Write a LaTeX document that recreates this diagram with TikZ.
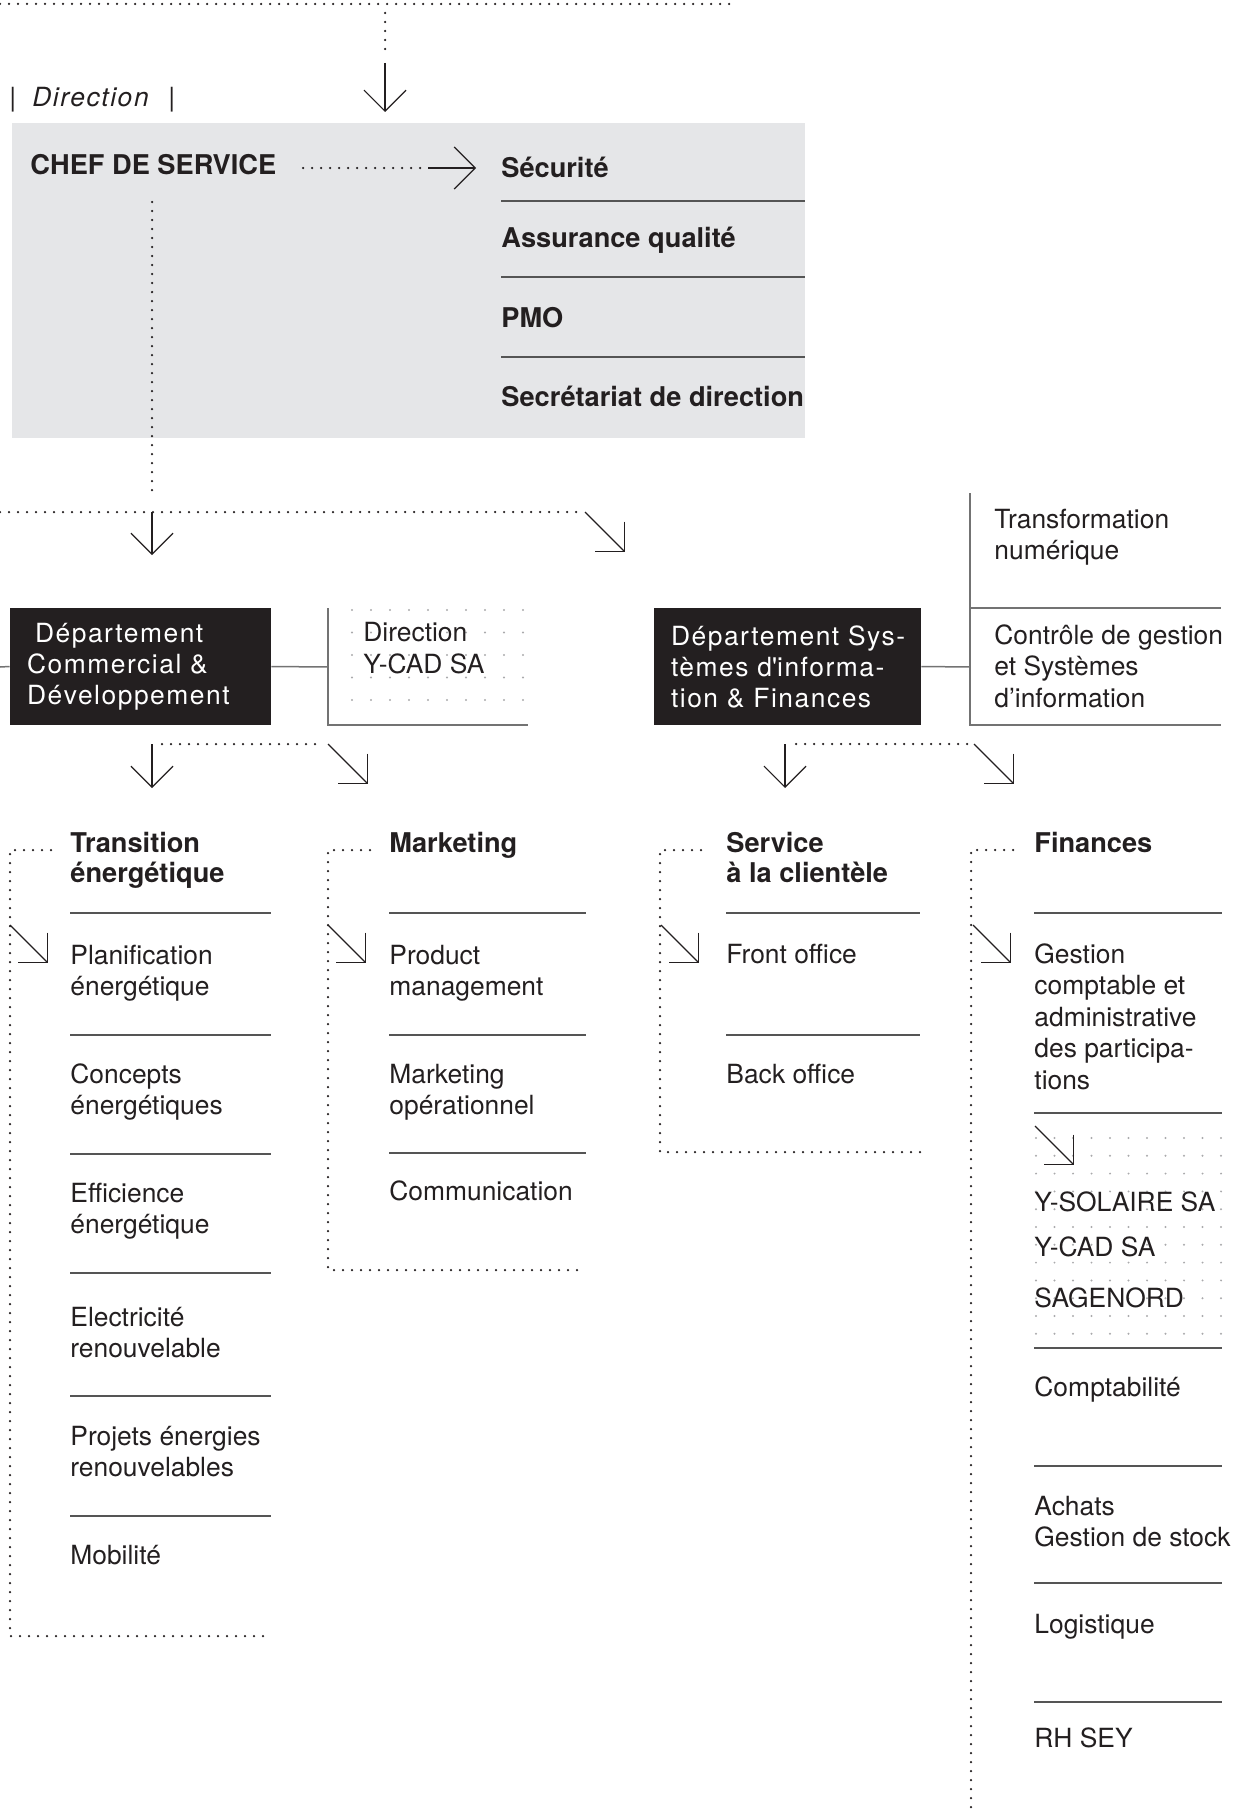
\documentclass[tikz,border=0pt]{standalone}
\usepackage{fontspec}
\setmainfont{TeX Gyre Heros}
\newfontfamily\deptfont{TeX Gyre Heros}[LetterSpace=5.8]
\usetikzlibrary{arrows.meta,positioning}
\definecolor{ink}{RGB}{35,31,32}
\definecolor{boxgray}{RGB}{229,230,232}
\definecolor{rulegray}{RGB}{85,85,85}
\definecolor{linkgray}{RGB}{115,115,115}
\definecolor{griddot}{RGB}{170,170,172}
\newcommand{\dotgap}{4.5pt}
\newcommand{\gridr}{.55pt}

\begin{document}
\begin{tikzpicture}[x=.5pt,y=-.5pt,
    every node/.style={inner sep=0pt, anchor=base west, align=left, text=ink,
      font=\fontsize{13.2}{15.75}\selectfont},
    title/.style={font=\fontsize{13.6}{15}\selectfont\bfseries},
    deptbox/.style={anchor=center, fill=ink, text=white, minimum height=58.5pt, inner xsep=8.5pt,
      font=\deptfont\fontsize{13.2}{15.5}\selectfont},
    hrule/.style={draw=rulegray, line width=.75pt},
    joinline/.style={draw=linkgray, line width=.75pt},
    dotline/.style={draw=ink, line width=1.25pt, line cap=round, dash pattern=on 0pt off \dotgap},
    arrowline/.style={draw=ink, line width=.6pt, -{Straight Barb[length=10.5pt,width=21pt]}}]

        \useasboundingbox (0,0) rectangle (1239,1809);

          % direction
        \node (dirbox) at (12,123) [anchor=north west, fill=boxgray, minimum width=396.5pt, minimum height=157.5pt] {};
        \node (dirlbl) at (9,107) {|\hspace{8pt}{\addfontfeature{LetterSpace=6}\textit{Direction}}\hspace{9pt}|};
        \coordinate (topin) at (385,13);
        \coordinate (topmid) at (385,63);
        \coordinate (topend) at (385,112);
        \draw[dotline] (0,4) -- (730,4);
        \draw[dotline] (topin) -- (385,58);
        \draw[arrowline] (topmid) -- (topend);

        \node (chef) at (30,175) [title] {CHEF DE SERVICE};
        \node (secu) at (501,177) [title] {Sécurité};
        \node (qual) at (501,247) [title] {Assurance qualité};
        \node (pmo) at (501,327) [title] {PMO};
        \node (secr) at (501,406) [title] {Secrétariat de direction};
        \foreach \y in {201,277,357} \draw[hrule] (501,\y) -- (805,\y);

        \coordinate (chefout) at (303,168);
        \coordinate (chefmid) at (428,168);
        \coordinate (secuin) at (476,168);
        \draw[dotline] (chefout) -- (421,168);
        \draw[arrowline] (chefmid) -- (secuin);

          % split to departments
        \coordinate (split) at (152,512);
        \draw[dotline] (152,202) -- (152,497);
        \draw[dotline] (0,512) -- (585,512);
        \draw[arrowline] (split) -- (152,555);
        \draw[arrowline] (585,512) -- ++(40,40);

          % departement commercial
        \node (dcd) at (140.5,666.5) [deptbox, text width=113.5pt] {\mbox{\hspace*{4pt}Département}\\\mbox{Commercial \&}\\\mbox{Développement}};
        \coordinate (dcdleft) at (0,667);
        \coordinate (ycadjoin) at (328,667);
        \draw[joinline] (dcdleft) -- (dcd.west);
        \draw[joinline] (dcd.east) -- (ycadjoin);
        \draw[joinline] (328,608) -- (328,725) -- (528,725);
        \foreach \i in {0,...,9} \foreach \j in {0,...,4} \fill[griddot] (352+19*\i,610+22.5*\j) circle (\gridr);
        \node (ycaddir) at (363,673) {Direction\\Y-CAD SA};

        \draw[arrowline] (152,744) -- (152,788);
        \draw[dotline] (162,744) -- (322,744);
        \draw[arrowline] (328,744) -- ++(40,40);

          % departement SI & finances
        \node (dsi) at (787.5,666.5) [deptbox, text width=116.5pt] {\mbox{Département Sys-}\\\mbox{tèmes d\textquotesingle informa-}\\\mbox{tion \& Finances}};
        \coordinate (dsijoin) at (970,667);
        \draw[joinline] (dsi.east) -- (dsijoin);
        \draw[joinline] (970,493) -- (970,725) -- (1221,725);
        \draw[joinline] (970,608) -- (1221,608);
        \node (trnum) at (994,559.5) {Transformation\\numérique};
        \node (ctrl) at (994,707) {Contrôle de gestion\\et Systèmes\\d’information};

        \draw[arrowline] (785,744) -- (785,788);
        \draw[dotline] (796,744) -- (968,744);
        \draw[arrowline] (974,744) -- ++(40,40);

          % transition energetique
        \draw[dotline] (51,850) -- (10,850) -- (10,1636) -- (267,1636);
        \node (trans) at (70,882) [title] {Transition\\énergétique};
        \foreach \y in {913,1035,1154,1273,1396,1516} \draw[hrule] (70,\y) -- (271,\y);
        \draw[arrowline] (10,925) -- ++(38,38);
        \node (plan) at (70,995.5) {Planification\\énergétique};
        \node (conc) at (70,1114.5) {Concepts\\énergétiques};
        \node (effi) at (70,1233.5) {Efficience\\énergétique};
        \node (elec) at (70,1357.5) {Electricité\\renouvelable};
        \node (proj) at (70,1476.5) {Projets énergies\\renouvelables};
        \node (mobi) at (70,1564) {Mobilité};

          % marketing
        \draw[dotline] (370,850) -- (328,850) -- (328,1270) -- (585,1270);
        \node (mkt) at (389,852) [title] {Marketing};
        \foreach \y in {913,1035,1153} \draw[hrule] (389,\y) -- (586,\y);
        \draw[arrowline] (328,925) -- ++(38,38);
        \node (prod) at (389,995.5) {Product\\management};
        \node (mkop) at (389,1114.5) {Marketing\\opérationnel};
        \node (comm) at (389,1200) {Communication};

          % service clientele
        \draw[dotline] (701,850) -- (660,850) -- (660,1152) -- (928,1152);
        \node (serv) at (726,882) [title] {Service\\à la clientèle};
        \foreach \y in {913,1035} \draw[hrule] (726,\y) -- (920,\y);
        \draw[arrowline] (661,925) -- ++(38,38);
        \node (front) at (726,963) {Front office};
        \node (back) at (726,1083) {Back office};

          % finances
        \draw[dotline] (1013,850) -- (971,850) -- (971,1809);
        \node (fin) at (1034,852) [title] {Finances};
        \foreach \y in {913,1113,1348,1466,1583,1702} \draw[hrule] (1034,\y) -- (1222,\y);
        \draw[arrowline] (973,925) -- ++(38,38);
        \node (gest) at (1034,1089) {Gestion\\comptable et\\administrative\\des participa-\\tions};
        \foreach \i in {0,...,10} \foreach \j in {0,...,11} \fill[griddot] (1036+18.5*\i,1138+17.8*\j) circle (\gridr);
        \draw[arrowline] (1035,1126) -- ++(39,39);
        \node (ysol) at (1034,1211) {Y-SOLAIRE SA};
        \node (ycad) at (1034,1256) {Y-CAD SA};
        \node (sage) at (1034,1307) {SAGENORD};
        \node (compta) at (1034,1396) {Comptabilité};
        \node (achat) at (1034,1546.5) {Achats\\Gestion de stock};
        \node (logi) at (1034,1633) {Logistique};
        \node (rh) at (1034,1747) {RH SEY};

        \end{tikzpicture}
\end{document}
